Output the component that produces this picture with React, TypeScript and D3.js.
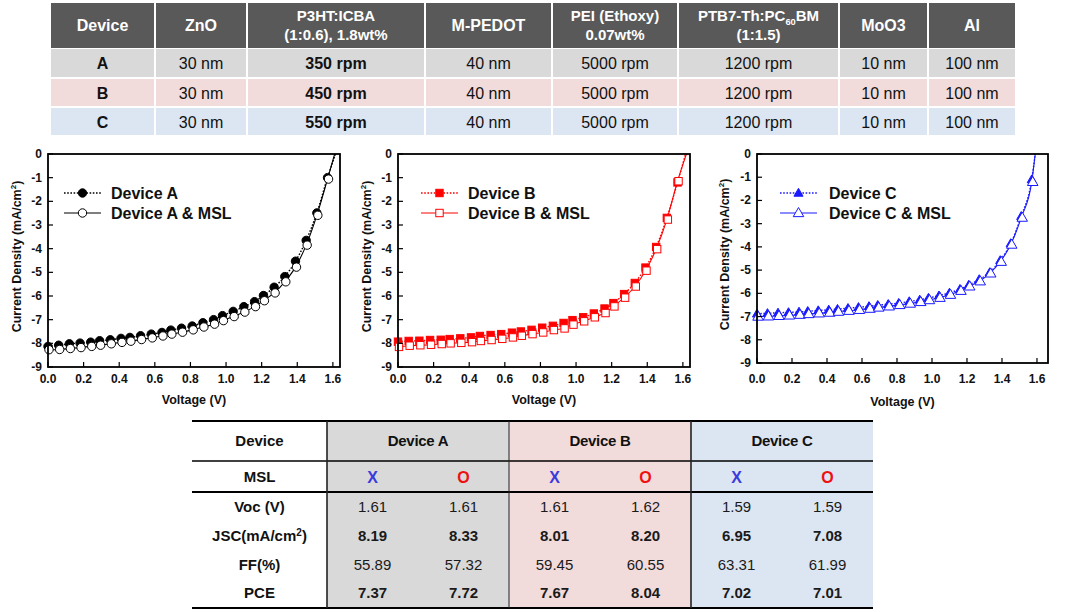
import React from "react";
import * as d3 from "d3";

const FONT = "Arial, 'Liberation Sans', Helvetica, sans-serif";

// ---------- Top table data ----------
const topHeaders: string[][] = [
  ["Device"],
  ["ZnO"],
  ["P3HT:ICBA", "(1:0.6), 1.8wt%"],
  ["M-PEDOT"],
  ["PEI (Ethoxy)", "0.07wt%"],
  ["PTB7-Th:PC|60|BM", "(1:1.5)"],
  ["MoO3"],
  ["Al"],
];
const topRowsA = ["A", "30 nm", "350 rpm", "40 nm", "5000 rpm", "1200 rpm", "10 nm", "100 nm"];
const topRowsB = ["B", "30 nm", "450 rpm", "40 nm", "5000 rpm", "1200 rpm", "10 nm", "100 nm"];
const topRowsC = ["C", "30 nm", "550 rpm", "40 nm", "5000 rpm", "1200 rpm", "10 nm", "100 nm"];
const boldCols = [0, 2];

// ---------- J-V data ----------
const voltages = [0.0, 0.06, 0.12, 0.18, 0.24, 0.29, 0.35, 0.41, 0.46, 0.52, 0.58, 0.64, 0.69, 0.75, 0.81, 0.87, 0.93, 0.98, 1.04, 1.1, 1.16, 1.21, 1.27, 1.33, 1.39, 1.45, 1.51, 1.57];

const deviceA = [-8.13, -8.08, -8.02, -7.99, -7.95, -7.89, -7.85, -7.79, -7.75, -7.68, -7.61, -7.54, -7.44, -7.36, -7.27, -7.13, -7.0, -6.83, -6.65, -6.45, -6.24, -5.98, -5.63, -5.18, -4.53, -3.65, -2.49, -1.0];
const deviceAMSL = [-8.27, -8.26, -8.22, -8.18, -8.13, -8.08, -8.02, -7.96, -7.91, -7.84, -7.77, -7.69, -7.61, -7.53, -7.43, -7.31, -7.19, -7.04, -6.87, -6.68, -6.45, -6.2, -5.87, -5.4, -4.78, -3.85, -2.59, -1.06];
const deviceB = [-7.93, -7.9, -7.89, -7.86, -7.85, -7.82, -7.79, -7.75, -7.69, -7.65, -7.61, -7.55, -7.5, -7.43, -7.34, -7.26, -7.14, -7.02, -6.9, -6.74, -6.53, -6.3, -5.92, -5.45, -4.8, -3.93, -2.7, -1.2];
const deviceBMSL = [-8.15, -8.1, -8.08, -8.06, -8.03, -8.0, -7.98, -7.95, -7.9, -7.86, -7.81, -7.75, -7.68, -7.61, -7.54, -7.44, -7.37, -7.21, -7.07, -6.9, -6.72, -6.44, -6.07, -5.6, -4.93, -4.02, -2.77, -1.15];
const deviceC = [-6.88, -6.86, -6.84, -6.82, -6.8, -6.77, -6.74, -6.71, -6.68, -6.64, -6.6, -6.56, -6.51, -6.47, -6.42, -6.35, -6.28, -6.2, -6.1, -5.98, -5.82, -5.64, -5.4, -5.1, -4.58, -3.85, -2.68, -1.1];
const deviceCMSL = [-7.0, -6.99, -6.97, -6.95, -6.92, -6.89, -6.86, -6.83, -6.79, -6.75, -6.71, -6.66, -6.61, -6.56, -6.5, -6.44, -6.37, -6.29, -6.19, -6.06, -5.89, -5.7, -5.48, -5.14, -4.64, -3.9, -2.74, -1.2];

const vocValues = [1.615, 1.61, 1.615, 1.62, 1.59, 1.59];
const xTicks = [0, 0.2, 0.4, 0.6, 0.8, 1.0, 1.2, 1.4, 1.6];
const yTicks = [0, -1, -2, -3, -4, -5, -6, -7, -8, -9];

// ---------- Bottom table data ----------
const bottomGroups = ["Device A", "Device B", "Device C"];
const mslMarks = ["X", "O"];
const metricLabels = ["Voc (V)", "JSC(mA/cm|2|)", "FF(%)", "PCE"];
const vocRow = ["1.61", "1.61", "1.61", "1.62", "1.59", "1.59"];
const jscRow = ["8.19", "8.33", "8.01", "8.20", "6.95", "7.08"];
const ffRow = ["55.89", "57.32", "59.45", "60.55", "63.31", "61.99"];
const pceRow = ["7.37", "7.72", "7.67", "8.04", "7.02", "7.01"];
const metricBold = [false, true, false, true];

type Marker = "circle" | "square" | "triangle";

function MarkerShape({ type, x, y, filled, color }: { type: Marker; x: number; y: number; filled: boolean; color: string }) {
  const fill = filled ? color : "#fff";
  if (type === "circle") return <circle cx={x} cy={y} r={4.2} fill={fill} stroke={color} strokeWidth={1} />;
  if (type === "square") return <rect x={x - 3.7} y={y - 3.7} width={7.4} height={7.4} fill={fill} stroke={color} strokeWidth={1} />;
  const p = d3.symbol().type(d3.symbolTriangle).size(filled ? 36 : 48)();
  return <path d={p || ""} transform={`translate(${x},${y + 0.6})`} fill={fill} stroke={color} strokeWidth={1} />;
}

function JVChart(props: {
  left: number; right: number; top: number; bottom: number; xMax: number;
  filled: number[]; open: number[]; vocF: number; vocO: number;
  color: string; marker: Marker; names: string[];
  legX: number; legY: number; textX: number; yTitleX: number; xTitleY: number; xLabelY: number;
}) {
  const { left, right, top, bottom, xMax, filled, open, vocF, vocO, color, marker, names } = props;
  const x = d3.scaleLinear().domain([0, xMax]).range([left, right]);
  const y = d3.scaleLinear().domain([0, -9]).range([top, bottom]);
  const line = d3.line<[number, number]>().x((d) => x(d[0])).y((d) => y(d[1])).curve(d3.curveMonotoneX);
  const fPts: [number, number][] = voltages.map((v, i) => [v, filled[i]] as [number, number]).concat([[vocF, 0]]);
  const oPts: [number, number][] = voltages.map((v, i) => [v, open[i]] as [number, number]).concat([[vocO, 0]]);
  const clipId = `clip-${left}`;
  return (
    <g fontFamily={FONT}>
      <defs>
        <clipPath id={clipId}>
          <rect x={left} y={top} width={right - left} height={bottom - top} />
        </clipPath>
      </defs>
      <g clipPath={`url(#${clipId})`}>
        <path d={line(oPts) || ""} fill="none" stroke={color} strokeWidth={1.1} />
        <path d={line(fPts) || ""} fill="none" stroke={color} strokeWidth={1.4} strokeDasharray="1.6,1.6" />
      </g>
      {voltages.map((v, i) => (
        <MarkerShape key={"f" + i} type={marker} x={x(v)} y={y(filled[i])} filled={true} color={color} />
      ))}
      {voltages.map((v, i) => (
        <MarkerShape key={"o" + i} type={marker} x={x(v) + 1} y={y(open[i])} filled={false} color={color} />
      ))}
      {/* frame */}
      <rect x={left} y={top} width={right - left} height={bottom - top} fill="none" stroke="#000" strokeWidth={1.8} />
      {xTicks.map((t) => (
        <g key={"xt" + t}>
          <line x1={x(t)} x2={x(t)} y1={bottom} y2={bottom - 5} stroke="#000" strokeWidth={1.2} />
          <text x={x(t)} y={props.xLabelY} textAnchor="middle" fontSize={12} fontWeight="bold" fill="#111">
            {t.toFixed(1)}
          </text>
        </g>
      ))}
      {yTicks.map((t) => (
        <g key={"yt" + t}>
          <line x1={left} x2={left + 5} y1={y(t)} y2={y(t)} stroke="#000" strokeWidth={1.2} />
          <text x={left - 6} y={y(t) + 4} textAnchor="end" fontSize={12} fontWeight="bold" fill="#111">
            {t === 0 ? "0" : String(t)}
          </text>
        </g>
      ))}
      <text x={(left + right) / 2} y={props.xTitleY} textAnchor="middle" fontSize={12.5} fontWeight="bold" fill="#111">
        Voltage (V)
      </text>
      <text
        transform={`translate(${props.yTitleX},${(top + bottom) / 2 - 4}) rotate(-90)`}
        textAnchor="middle"
        fontSize={12.5}
        fontWeight="bold"
        fill="#111"
      >
        Current Density (mA/cm<tspan dy={-5} fontSize={8}>2</tspan><tspan dy={5}>)</tspan>
      </text>
      {/* legend */}
      {[0, 1].map((k) => {
        const ly = props.legY + k * 20;
        return (
          <g key={"leg" + k}>
            <line
              x1={props.legX}
              x2={props.legX + 37}
              y1={ly}
              y2={ly}
              stroke={color}
              strokeWidth={k === 0 ? 1.5 : 1.1}
              strokeDasharray={k === 0 ? "1.6,1.6" : undefined}
            />
            <MarkerShape type={marker} x={props.legX + 18.5} y={ly} filled={k === 0} color={color} />
            <text x={props.textX} y={ly + 6} fontSize={16} fontWeight="bold" fill="#111">
              {names[k]}
            </text>
          </g>
        );
      })}
    </g>
  );
}

function SubText({ s, x, y, size, bold, fill }: { s: string; x: number; y: number; size: number; bold: boolean; fill: string }) {
  const parts = s.split("|");
  return (
    <text x={x} y={y} textAnchor="middle" fontSize={size} fontWeight={bold ? "bold" : "normal"} fill={fill} fontFamily={FONT}>
      {parts.length === 1
        ? s
        : [
            <tspan key="a">{parts[0]}</tspan>,
            <tspan key="b" dy={4} fontSize={size * 0.62}>
              {parts[1]}
            </tspan>,
            <tspan key="c" dy={-4}>
              {parts[2]}
            </tspan>,
          ]}
    </text>
  );
}

export default function App() {
  const colX = [50, 155, 247, 425, 552, 678, 839, 928, 1016];
  const rowBands = [
    [49, 77],
    [79, 106],
    [108, 135],
  ];
  const rowColors = ["#d9d9d9", "#f2dcdb", "#dce6f2"];
  const rows = [topRowsA, topRowsB, topRowsC];

  // bottom table layout
  const bCols = [192, 327, 509, 691, 873];
  const bTop = 421;
  const bHeadBot = 461;
  const bMslBot = 492;
  const bBot = 608;
  const metricY = [507, 536, 565, 593];
  const metricRows = [vocRow, jscRow, ffRow, pceRow];
  const groupColors = ["#d9d9d9", "#f2dcdb", "#dce6f2"];

  return (
    <svg width={1066} height={612} style={{ position: "absolute", left: 0, top: 0, background: "#fff" }} fontFamily={FONT}>
      <rect x={0} y={0} width={1066} height={612} fill="#fff" />
      {/* Top table */}
      {topHeaders.map((h, i) => {
        const x0 = colX[i];
        const x1 = colX[i + 1];
        const cx = (x0 + x1) / 2;
        return (
          <g key={"th" + i}>
            <rect x={x0 + 1} y={3} width={x1 - x0 - 2} height={45} fill="#595959" />
            {h.length === 1 ? (
              <SubText s={h[0]} x={cx} y={31} size={16} bold={true} fill="#fff" />
            ) : (
              <>
                <SubText s={h[0]} x={cx} y={21} size={15} bold={true} fill="#fff" />
                <SubText s={h[1]} x={cx} y={40} size={15} bold={true} fill="#fff" />
              </>
            )}
          </g>
        );
      })}
      {rows.map((r, ri) =>
        r.map((val, ci) => {
          const x0 = colX[ci];
          const x1 = colX[ci + 1];
          const [y0, y1] = rowBands[ri];
          return (
            <g key={`tr${ri}-${ci}`}>
              <rect x={x0 + 1} y={y0} width={x1 - x0 - 2} height={y1 - y0} fill={rowColors[ri]} />
              <text
                x={(x0 + x1) / 2}
                y={(y0 + y1) / 2 + 6}
                textAnchor="middle"
                fontSize={16}
                fontWeight={boldCols.includes(ci) ? "bold" : "normal"}
                fill="#111"
              >
                {val}
              </text>
            </g>
          );
        })
      )}

      {/* Charts */}
      <JVChart
        left={48} right={340} top={154} bottom={367} xMax={1.64}
        filled={deviceA} open={deviceAMSL} vocF={vocValues[0]} vocO={vocValues[1]}
        color="#000" marker="circle" names={["Device A", "Device A & MSL"]}
        legX={64} legY={193} textX={111} yTitleX={21} xTitleY={404} xLabelY={383}
      />
      <JVChart
        left={398} right={690} top={154} bottom={367} xMax={1.64}
        filled={deviceB} open={deviceBMSL} vocF={vocValues[2]} vocO={vocValues[3]}
        color="#ff0000" marker="square" names={["Device B", "Device B & MSL"]}
        legX={421} legY={193} textX={468} yTitleX={371} xTitleY={404} xLabelY={383}
      />
      <JVChart
        left={757} right={1048} top={154} bottom={363} xMax={1.663}
        filled={deviceC} open={deviceCMSL} vocF={vocValues[4]} vocO={vocValues[5]}
        color="#1a1aff" marker="triangle" names={["Device C", "Device C & MSL"]}
        legX={780} legY={193} textX={829} yTitleX={729} xTitleY={406} xLabelY={383}
      />

      {/* Bottom table */}
      {bottomGroups.map((g, gi) => (
        <rect key={"bg" + gi} x={bCols[gi + 1]} y={bTop} width={bCols[gi + 2] - bCols[gi + 1]} height={bBot - bTop} fill={groupColors[gi]} />
      ))}
      <line x1={bCols[0]} x2={bCols[4]} y1={bTop} y2={bTop} stroke="#000" strokeWidth={2} />
      <line x1={bCols[0]} x2={bCols[4]} y1={bHeadBot} y2={bHeadBot} stroke="#000" strokeWidth={1.6} />
      <line x1={bCols[0]} x2={bCols[4]} y1={bMslBot} y2={bMslBot} stroke="#000" strokeWidth={2} />
      <line x1={bCols[0]} x2={bCols[4]} y1={bBot} y2={bBot} stroke="#000" strokeWidth={2} />
      {[1, 2, 3].map((c) => (
        <line key={"bv" + c} x1={bCols[c]} x2={bCols[c]} y1={bTop} y2={bBot} stroke="#222" strokeWidth={c === 2 ? 1 : 1.6} />
      ))}
      <text x={(bCols[0] + bCols[1]) / 2} y={(bTop + bHeadBot) / 2 + 5} textAnchor="middle" fontSize={15} fontWeight="bold" fill="#111">
        Device
      </text>
      <text x={(bCols[0] + bCols[1]) / 2} y={(bHeadBot + bMslBot) / 2 + 5} textAnchor="middle" fontSize={15} fontWeight="bold" fill="#111">
        MSL
      </text>
      {bottomGroups.map((g, gi) => {
        const x0 = bCols[gi + 1];
        const x1 = bCols[gi + 2];
        const sub = d3.scaleBand().domain(mslMarks).range([x0, x1]);
        return (
          <g key={"bh" + gi}>
            <text x={(x0 + x1) / 2} y={(bTop + bHeadBot) / 2 + 5} textAnchor="middle" fontSize={15} fontWeight="bold" fill="#111" letterSpacing={-0.3}>
              {g}
            </text>
            {mslMarks.map((m) => (
              <text
                key={m}
                x={(sub(m) as number) + sub.bandwidth() / 2}
                y={(bHeadBot + bMslBot) / 2 + 6}
                textAnchor="middle"
                fontSize={16}
                fontWeight="bold"
                fill={m === "X" ? "#3b3bdc" : "#ee1111"}
              >
                {m}
              </text>
            ))}
            {metricRows.map((row, ri) =>
              mslMarks.map((m, mi) => (
                <text
                  key={`v${ri}-${mi}`}
                  x={(sub(m) as number) + sub.bandwidth() / 2}
                  y={metricY[ri] + 5}
                  textAnchor="middle"
                  fontSize={15}
                  fontWeight={metricBold[ri] ? "bold" : "normal"}
                  fill="#1a1a1a"
                >
                  {row[gi * 2 + mi]}
                </text>
              ))
            )}
          </g>
        );
      })}
      {metricLabels.map((lab, ri) => {
        const parts = lab.split("|");
        return (
          <text key={"ml" + ri} x={(bCols[0] + bCols[1]) / 2} y={metricY[ri] + 5} textAnchor="middle" fontSize={15} fontWeight="bold" fill="#111">
            {parts.length === 1 ? (
              lab
            ) : (
              <>
                {parts[0]}
                <tspan dy={-5} fontSize={10}>{parts[1]}</tspan>
                <tspan dy={5}>{parts[2]}</tspan>
              </>
            )}
          </text>
        );
      })}
    </svg>
  );
}
